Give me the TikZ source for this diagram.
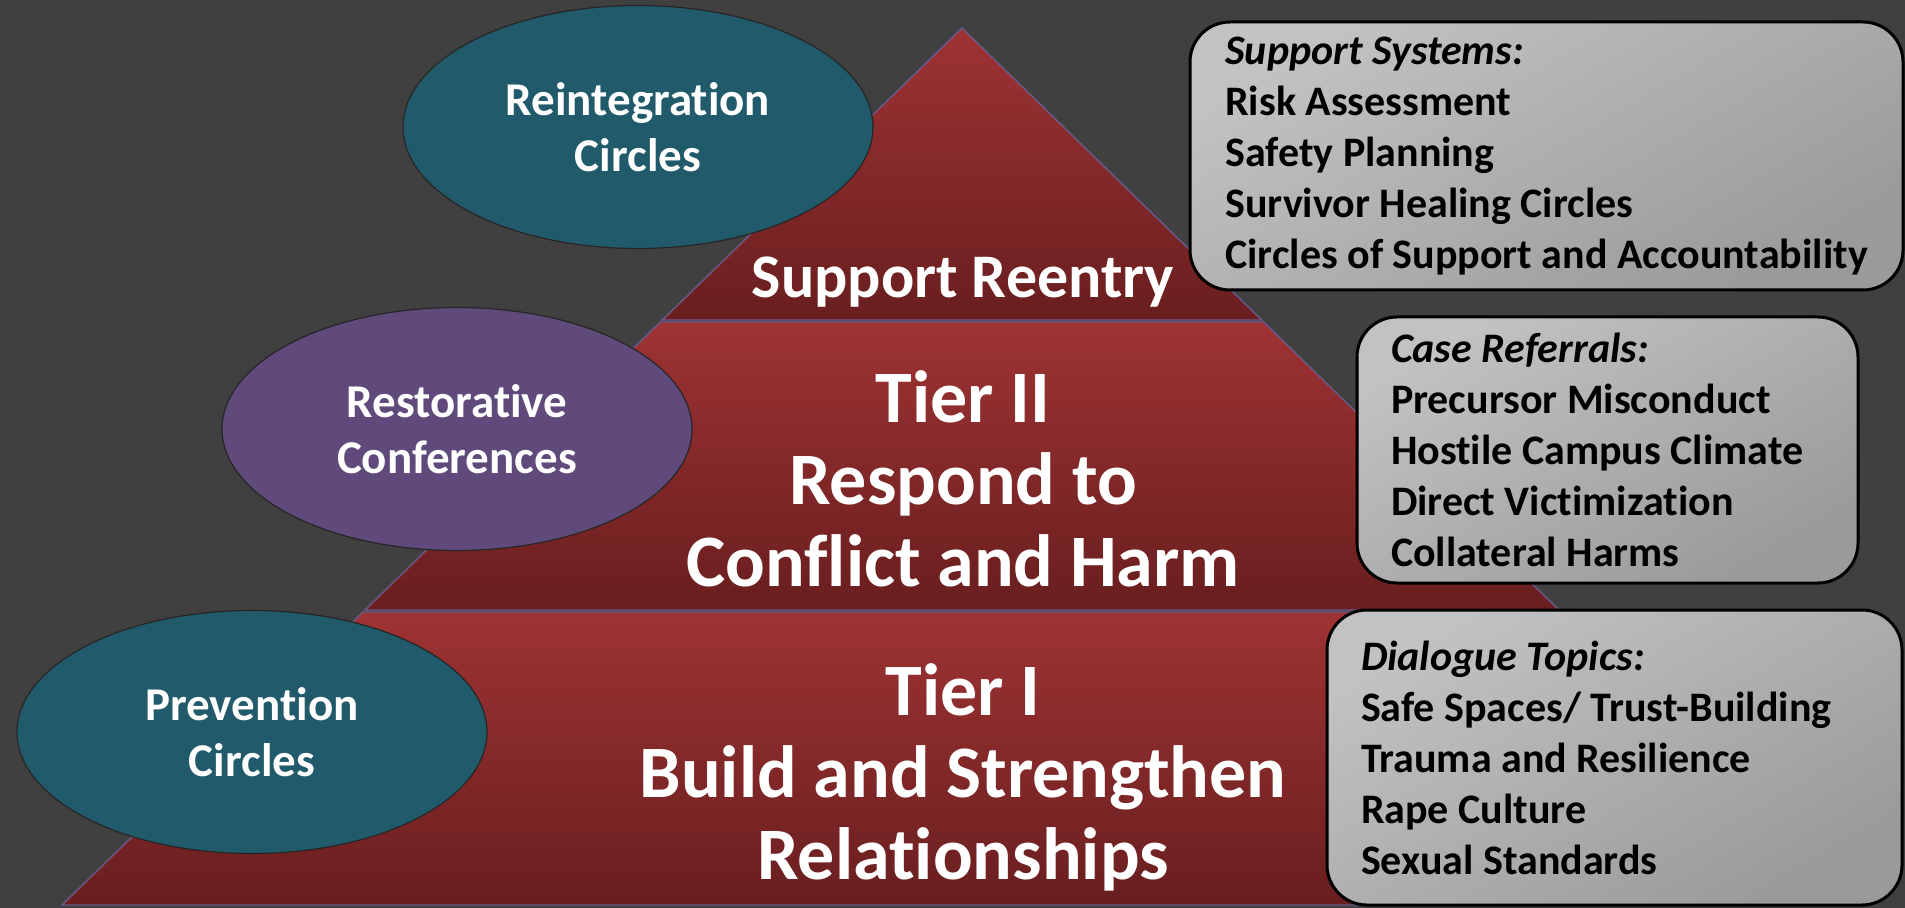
\documentclass[tikz,border=0pt]{standalone}
\usepackage{fontspec}
\setmainfont{Carlito}[RawFeature={-liga}]
\usetikzlibrary{shapes.geometric}

\definecolor{BackGray}{HTML}{404040}
\definecolor{TierLight}{HTML}{9E3333}
\definecolor{TierDark}{HTML}{691E1F}
\definecolor{TierEdge}{HTML}{6C5A8C}
\definecolor{TealFill}{HTML}{215A6A}
\definecolor{PurpleFill}{HTML}{5F4A7B}
\definecolor{PanelLight}{HTML}{C2C2C2}
\definecolor{PanelDark}{HTML}{9A9A9A}

\begin{document}
\begin{tikzpicture}[x=0.5pt,y=-0.5pt]
	\tikzstyle{Tier} = [draw=TierEdge, line width=0.7pt, top color=TierLight, bottom color=TierDark]
	\tikzstyle{Bubble} = [ellipse, draw=black!85, line width=0.6pt, minimum width=235pt, minimum height=121.5pt, inner sep=0pt, text=white, align=center, font=\fontsize{23.5}{28}\selectfont\bfseries]
	\tikzstyle{Label} = [text=white, align=center, anchor=base]
	\tikzstyle{Panel} = [draw=black, line width=1.5pt, rounded corners=20pt, top color=PanelLight, bottom color=PanelDark, shading angle=30, align=flush left, inner xsep=17pt, font=\fontsize{21}{25.5}\selectfont\bfseries]
	\fill[BackGray] (0,0) rectangle (1905,908);
	\useasboundingbox (0,0) rectangle (1905,908);
	% the three tiers of the pyramid
	\draw[Tier] (962,28)--(1261.6,320)--(662.4,320)--cycle;
	\draw[Tier] (660.4,322)--(1263.6,322)--(1559,610)--(365,610)--cycle;
	\draw[Tier] (363,612)--(1561,612)--(1862,905)--(62,905)--cycle;
	% base of a multi-line label sits on its last line
	\node[Label, font=\fontsize{31}{36}\selectfont\bfseries] (reentry) at (963,298) {Support Reentry};
	\node[Label, font=\fontsize{37}{41}\selectfont\bfseries] (tiertwo) at (963,587) {Tier II\\Respond to\\Conflict and Harm};
	\node[Label, font=\fontsize{37}{41}\selectfont\bfseries] (tierone) at (963,879) {Tier I\\Build and Strengthen\\Relationships};
	% circles on the left
	\node[Bubble, fill=TealFill] (reintegration) at (638,127) {Reintegration\\Circles};
	\node[Bubble, fill=PurpleFill] (restorative) at (457,429) {Restorative\\Conferences};
	\node[Bubble, fill=TealFill] (prevention) at (252,732) {Prevention\\Circles};
	% lists on the right
	\node[Panel, minimum width=356.5pt, minimum height=134pt] (support) at (1546.5,156)
		{\textit{Support Systems:}\\Risk Assessment\\Safety Planning\\Survivor Healing Circles\\Circles of Support and Accountability};
	\node[Panel, text width=216.5pt, minimum height=133pt] (referrals) at (1607.5,450)
		{\textit{Case Referrals:}\\Precursor Misconduct\\Hostile Campus Climate\\Direct Victimization\\Collateral Harms};
	\node[Panel, text width=253.5pt, minimum height=147.5pt] (dialogue) at (1614.5,757.5)
		{\textit{Dialogue Topics:}\\Safe Spaces/ Trust-Building\\Trauma and Resilience\\Rape Culture\\Sexual Standards};
\end{tikzpicture}
\end{document}
